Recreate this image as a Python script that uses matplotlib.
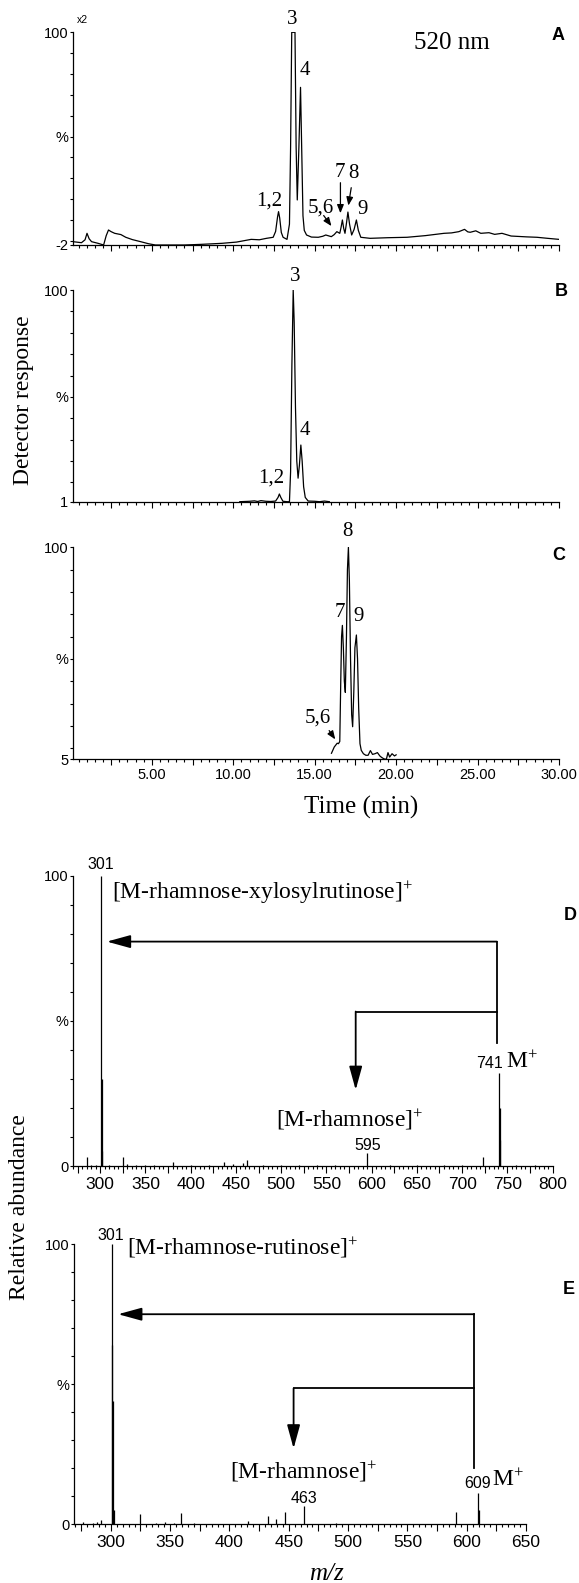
import matplotlib
matplotlib.use('Agg')
import matplotlib.pyplot as plt
from matplotlib.ticker import MultipleLocator, FuncFormatter, FixedLocator
from matplotlib import font_manager

# ---- chromatogram A (520 nm), time in min, response in %
a_time = [0.16, 0.68, 0.9, 1.02, 1.15, 1.3, 1.7, 2.04, 2.2, 2.34, 2.5, 2.72, 3.1, 3.4, 3.8,
          4.31, 4.8, 5.22, 6.0, 7.0, 8.0, 9.3, 10.2, 11.1, 11.6, 12.04, 12.45, 12.6, 12.72,
          12.78, 12.85, 12.95, 13.06, 13.3, 13.45, 13.52, 13.59, 13.79, 13.86, 13.93, 14.03,
          14.13, 14.2, 14.28, 14.36, 14.5, 14.8, 15.22, 15.5, 15.68, 16.02, 16.2, 16.36,
          16.54, 16.62, 16.7, 16.78, 16.86, 16.96, 17.04, 17.14, 17.27, 17.42, 17.56, 17.68,
          17.83, 18.4, 19.5, 20.67, 21.8, 22.94, 23.4, 23.85, 24.2, 24.4, 24.55, 24.89, 25.2,
          25.7, 26.05, 26.5, 27.06, 28.0, 28.65, 29.3, 30.0]
a_resp = [-0.4, -0.9, 0.5, 3.6, 1.0, -0.4, -1.2, -2.0, 2.5, 5.2, 4.4, 3.6, 3.0, 1.7, 0.6,
          -0.4, -1.4, -2.0, -2.0, -2.0, -1.7, -1.2, -0.6, 0.7, 0.5, 1.2, 1.7, 4.5, 11.5,
          14.0, 11.0, 4.0, 1.7, 0.7, 8.0, 45, 100, 100, 45, 19.6, 45,
          73.6, 45, 12, 5, 2.8, 1.8, 1.7, 2.2, 2.8, 2.0, 3.0, 4.4,
          3.6, 6.5, 10.0, 6.0, 3.6, 9.0, 13.8, 8.0, 2.8, 5.5, 10.0, 5.0,
          1.7, 1.2, 1.5, 1.7, 2.5, 3.6, 3.8, 4.4, 5.5, 4.3, 4.1, 4.8, 3.6,
          3.9, 3.1, 3.6, 2.3, 1.9, 1.7, 1.2, 0.7]

# ---- chromatogram B
b_time = [10.4, 11.0, 11.3, 11.5, 11.7, 12.0, 12.3, 12.6, 12.75, 12.83, 12.92, 13.05, 13.3,
          13.45, 13.52, 13.6, 13.68, 13.74, 13.82, 13.9, 13.98, 14.06, 14.15, 14.23, 14.32,
          14.42, 14.6, 15.0, 15.3, 15.6, 15.9]
b_resp = [1.0, 1.2, 1.4, 1.1, 1.5, 1.2, 1.1, 1.3, 3.0, 4.6, 3.0, 1.2, 1.0,
          1.0, 15, 65, 100, 85, 45, 20, 12, 18, 27.5, 20, 8,
          3.0, 1.3, 1.2, 1.0, 1.3, 1.0]

# ---- chromatogram C
c_time = [16.03, 16.2, 16.38, 16.46, 16.54, 16.6, 16.65, 16.7, 16.76, 16.82, 16.88, 16.95,
          17.01, 17.07, 17.13, 17.2, 17.27, 17.33, 17.4, 17.47, 17.56, 17.63, 17.7, 17.78,
          17.86, 17.99, 18.14, 18.28, 18.42, 18.55, 18.7, 18.85, 19.0, 19.1, 19.25, 19.4,
          19.5, 19.6, 19.75, 19.9, 20.0]
c_resp = [7.7, 10.5, 12.2, 12.0, 13.0, 40, 60, 65, 55, 40, 35, 60,
          90, 100, 85, 50, 25, 19.6, 35, 55, 60.7, 50, 28, 12,
          9, 7.5, 6.8, 6.8, 8.9, 7.2, 7.5, 8.0, 6.5, 5.9, 5.2, 5.0,
          8.0, 6.0, 7.5, 6.5, 7.0]

# ---- MS spectrum D (m/z, relative abundance %)
d_mz = [285, 290, 295, 301, 301.5, 302, 310, 325, 329.5, 340, 350, 360, 380, 400, 420,
        436.6, 447, 457.7, 462, 480, 500, 520, 540, 560, 595, 620, 650, 680, 700, 723,
        741, 741.5, 742, 760, 780]
d_int = [3.2, 0.5, 0.4, 100, 30, 5, 0.5, 3.0, 0.8, 0.5, 0.4, 0.5, 1.5, 0.4, 0.5,
         1.5, 0.6, 1.1, 2.0, 0.4, 0.4, 0.5, 0.3, 0.4, 4.4, 0.4, 0.4, 0.3, 0.4, 3.2,
         32, 20, 9, 0.3, 0.3]

# ---- MS spectrum E
e_mz = [277, 285, 288, 292, 301, 301.3, 301.7, 302.3, 325, 338, 346, 353, 359, 370, 416,
        432.7, 439, 447, 463, 490, 590.7, 609.4, 610]
e_int = [0.6, 0.4, 0.6, 1.4, 100, 64, 44, 5, 3.6, 0.4, 0.8, 0.4, 4.0, 0.3, 1.0,
         2.7, 1.8, 4.4, 6.4, 0.4, 4.4, 11.2, 5]

W, H = 579, 1583
names = {f.name for f in font_manager.fontManager.ttflist}
SANS = 'Liberation Sans Narrow' if 'Liberation Sans Narrow' in names else 'Liberation Sans'
SERIF = 'Liberation Serif'
plt.rcParams['font.family'] = [SANS, 'DejaVu Sans']
plt.rcParams['mathtext.fontset'] = 'custom'
plt.rcParams['mathtext.rm'] = SERIF
plt.rcParams['mathtext.it'] = SERIF + ':italic'

fig = plt.figure(figsize=(W / 100, H / 100), dpi=100)


def rect(left, top, right, bottom):
    return [left / W, 1 - bottom / H, (right - left) / W, (bottom - top) / H]


def style(ax, ymin, ylab_min):
    for s in ('top', 'right'):
        ax.spines[s].set_visible(False)
    for s in ('left', 'bottom'):
        ax.spines[s].set_linewidth(0.9)
    ax.set_yticks([ymin, 50, 100])
    ax.set_yticklabels([ylab_min, '%', '100'])
    ax.yaxis.set_minor_locator(FixedLocator([v for v in range(0, 101, 10) if v > ymin]))
    ax.tick_params(axis='y', which='both', direction='out', length=2.5, width=0.8,
                   pad=1, labelsize=10.5)
    ax.tick_params(axis='x', which='major', direction='out', length=4.5, width=0.8,
                   pad=2, labelsize=10.5)
    ax.tick_params(axis='x', which='minor', direction='out', length=2.2, width=0.8)


def chrom(ax, t, r, ymin, ylab_min, labels):
    ax.plot(t, r, color='black', lw=0.9)
    ax.set_xlim(0.16, 30)
    ax.set_ylim(ymin, 100)
    style(ax, ymin, ylab_min)
    ax.xaxis.set_major_locator(MultipleLocator(2.5))
    ax.xaxis.set_minor_locator(MultipleLocator(0.5))
    fmt = lambda v, p: f'{v:.2f}' if labels and abs(v / 5 - round(v / 5)) < 1e-6 else ''
    ax.xaxis.set_major_formatter(FuncFormatter(fmt))


def peak_label(ax, x, y, s):
    ax.text(x, y, s, family=SERIF, fontsize=15, ha='center', va='center', clip_on=False)


def small_arrow(ax, tip, start):
    ax.annotate('', xy=tip, xytext=start,
                arrowprops=dict(arrowstyle='-|>,head_length=0.5,head_width=0.2',
                                color='black', lw=0.9, mutation_scale=10))


# ---- panel A
axA = fig.add_axes(rect(73, 32.3, 559, 245))
chrom(axA, a_time, a_resp, -2, '-2', False)
peak_label(axA, 13.63, 106, '3')
peak_label(axA, 14.42, 81.6, '4')
peak_label(axA, 12.21, 19.2, '1,2')
peak_label(axA, 15.39, 15.6, '5,6')
peak_label(axA, 16.53, 32.9, '7')
peak_label(axA, 17.38, 32.4, '8')
peak_label(axA, 17.95, 14.8, '9')
small_arrow(axA, (16.58, 11.9), (16.58, 29.2))
small_arrow(axA, (17.04, 15.6), (17.27, 26.8))
small_arrow(axA, (16.13, 6.0), (15.45, 13.2))
axA.text(23.41, 94.9, '520 nm', family=SERIF, fontsize=18, ha='center', va='center')
axA.text(0.75, 105.7, 'x2', fontsize=7.5, ha='center', va='center', clip_on=False)

# ---- panel B
axB = fig.add_axes(rect(73, 290, 559, 501.7))
chrom(axB, b_time, b_resp, 1, '1', False)
peak_label(axB, 13.8, 106.2, '3')
peak_label(axB, 14.42, 34.5, '4')
peak_label(axB, 12.33, 12, '1,2')

# ---- panel C
axC = fig.add_axes(rect(73, 547.3, 559, 759.3))
chrom(axC, c_time, c_resp, 5, '5', True)
peak_label(axC, 16.98, 107, '8')
peak_label(axC, 16.53, 70.9, '7')
peak_label(axC, 17.72, 68.9, '9')
peak_label(axC, 15.17, 23.4, '5,6')
small_arrow(axC, (16.36, 12.9), (15.79, 18.9))


def spectrum(ax, mz, inten, x0, x1):
    ax.vlines(mz, 0, inten, color='black', lw=0.9)
    ax.set_xlim(x0, x1)
    ax.set_ylim(0, 100)
    style(ax, 0, '0')
    ax.xaxis.set_major_locator(MultipleLocator(25))
    ax.xaxis.set_minor_locator(MultipleLocator(5))
    ax.xaxis.set_major_formatter(FuncFormatter(lambda v, p: f'{v:.0f}' if v % 50 == 0 else ''))
    ax.tick_params(axis='x', which='major', length=5, pad=3, labelsize=12.5)
    ax.tick_params(axis='x', which='minor', length=2.5)


def bracket_arrow(ax, x_from, x_to, y_level, y_end):
    ax.annotate('', xy=(x_to, y_end), xytext=(x_from, y_level),
                arrowprops=dict(arrowstyle='-|>,head_length=0.8,head_width=0.22',
                                color='black', lw=1.3, mutation_scale=18,
                                shrinkA=0, shrinkB=0))


# ---- panel D
axD = fig.add_axes(rect(73, 875.7, 552.6, 1166))
spectrum(axD, d_mz, d_int, 270, 800)
axD.text(300.3, 103.7, '301', fontsize=11.5, ha='center', va='center', clip_on=False)
axD.text(313.6, 94, '[M-rhamnose-xylosylrutinose]$^{+}$', family=SERIF, fontsize=17,
         ha='left', va='center')
axD.plot([738.4, 738.4], [42.3, 77.3], color='black', lw=1.3)
bracket_arrow(axD, 738.4, 307.4, 77.3, 77.3)
axD.plot([738.4, 582.4], [53.2, 53.2], color='black', lw=1.3)
bracket_arrow(axD, 582.4, 582.4, 53.2, 26.2)
axD.text(745.5, 35.4, '741', fontsize=11.5, ha='right', va='center')
axD.text(749, 35.8, 'M$^{+}$', family=SERIF, fontsize=17, ha='left', va='center')
axD.text(575.7, 15.8, '[M-rhamnose]$^{+}$', family=SERIF, fontsize=17, ha='center', va='center')
axD.text(595.2, 7.2, '595', fontsize=11.5, ha='center', va='center')

# ---- panel E
axE = fig.add_axes(rect(74, 1244.3, 526, 1524))
spectrum(axE, e_mz, e_int, 269, 650)
axE.text(300, 103.2, '301', fontsize=11.5, ha='center', va='center', clip_on=False)
axE.text(314, 98.7, '[M-rhamnose-rutinose]$^{+}$', family=SERIF, fontsize=17,
         ha='left', va='center', clip_on=False)
axE.plot([606.3, 606.3], [19.9, 75], color='black', lw=1.3)
bracket_arrow(axE, 606.3, 306.2, 75, 75)
axE.plot([606.3, 454.1], [48.5, 48.5], color='black', lw=1.3)
bracket_arrow(axE, 454.1, 454.1, 48.5, 27)
axE.text(609.4, 14.5, '609', fontsize=11.5, ha='center', va='center')
axE.text(621, 15.7, 'M$^{+}$', family=SERIF, fontsize=17, ha='left', va='center')
axE.text(462.4, 18.7, '[M-rhamnose]$^{+}$', family=SERIF, fontsize=17, ha='center', va='center')
axE.text(462.5, 9.2, '463', fontsize=11.5, ha='center', va='center')

# ---- panel letters and axis titles
for letter, x, y in [('A', 558, 36), ('B', 561, 292), ('C', 559, 555), ('D', 570, 916), ('E', 569, 1290)]:
    fig.text(x / W, 1 - y / H, letter, family='Liberation Sans', fontweight='bold',
             fontsize=13, ha='center', va='center')

fig.text(361 / W, 1 - 807 / H, 'Time (min)', family=SERIF, fontsize=18, ha='center', va='center')
fig.text(326 / W, 1 - 1574 / H, 'm/z', family=SERIF, style='italic', fontsize=18,
         ha='center', va='center')
fig.text(24 / W, 1 - 400 / H, 'Detector response', family=SERIF, fontsize=17,
         rotation=90, ha='center', va='center')
fig.text(20 / W, 1 - 1207 / H, 'Relative abundance', family=SERIF, fontsize=17,
         rotation=90, ha='center', va='center')

fig.savefig('out.png', dpi=100)
